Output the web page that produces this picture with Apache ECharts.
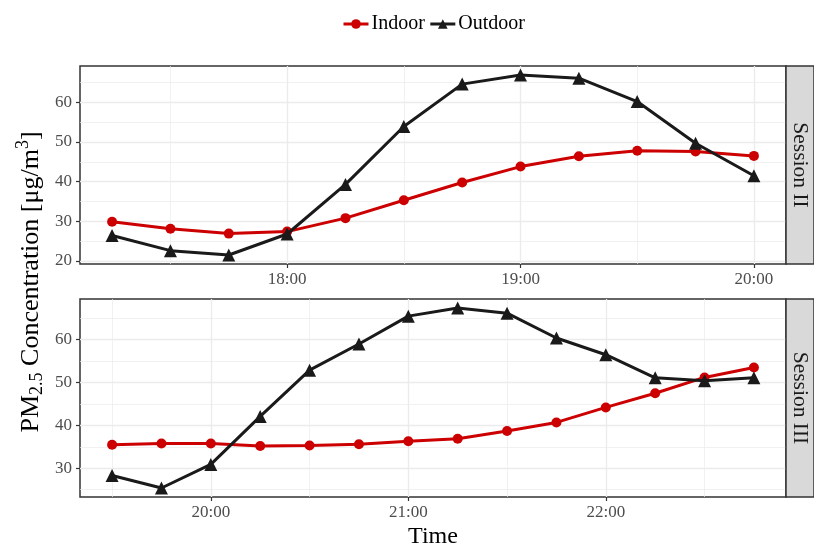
<!DOCTYPE html>
<html>
<head>
<meta charset="utf-8">
<script src="https://cdn.jsdelivr.net/npm/echarts@6/dist/echarts.min.js"></script>
<style>
html,body{margin:0;padding:0;background:#fff;}
#chart{width:814px;height:547px;}
</style>
</head>
<body>
<div id="chart"></div>
<script>
// ---- Data ----
const seriesNames = ['Indoor', 'Outdoor'];
const panelNames = ['Session II', 'Session III'];

const s2Times = ['17:15','17:30','17:45','18:00','18:15','18:30','18:45','19:00','19:15','19:30','19:45','20:00'];
const s2Indoor = [29.9, 28.1, 26.9, 27.4, 30.8, 35.3, 39.8, 43.8, 46.4, 47.8, 47.6, 46.5];
const s2Outdoor = [26.4, 22.6, 21.5, 26.8, 39.3, 53.9, 64.6, 66.9, 66.1, 60.2, 49.7, 41.5];

const s3Times = ['19:30','19:45','20:00','20:15','20:30','20:45','21:00','21:15','21:30','21:45','22:00','22:15','22:30','22:45'];
const s3Indoor = [35.5, 35.8, 35.8, 35.2, 35.3, 35.6, 36.3, 36.9, 38.7, 40.7, 44.2, 47.5, 51.2, 53.5];
const s3Outdoor = [28.3, 25.4, 30.9, 42.1, 52.9, 59.0, 65.5, 67.4, 66.2, 60.4, 56.5, 51.1, 50.4, 51.1];

const s2XTicks = ['18:00', '19:00', '20:00'];
const s2XMinor = ['17:30', '18:30', '19:30'];
const s3XTicks = ['20:00', '21:00', '22:00'];
const s3XMinor = ['19:30', '20:30', '21:30', '22:30'];
const s2YTicks = [20, 30, 40, 50, 60];
const s2YMinor = [25, 35, 45, 55, 65];
const s3YTicks = [30, 40, 50, 60];
const s3YMinor = [25, 35, 45, 55, 65];

// ---- helpers ----
function toH(s){ const p = s.split(':'); return +p[0] + (+p[1]) / 60; }
function fmt(v){ let h = Math.floor(v + 1e-6); let m = Math.round((v - h) * 60); if (m === 60){ h++; m = 0; } return h + ':' + (m < 10 ? '0' : '') + m; }
function expand(arr){ const mn = Math.min.apply(null, arr), mx = Math.max.apply(null, arr); const e = (mx - mn) * 0.05; return [mn - e, mx + e]; }

const FONT = '"Liberation Serif", "DejaVu Serif", serif';
const TICK_COLOR = '#4D4D4D';
const GRID_COLOR = '#EBEBEB';
const RED = '#CC0000';
const BLACK = '#1A1A1A';

const panels = [
  {times: s2Times, indoor: s2Indoor, outdoor: s2Outdoor, xt: s2XTicks, xm: s2XMinor, yt: s2YTicks, ym: s2YMinor, top: 66},
  {times: s3Times, indoor: s3Indoor, outdoor: s3Outdoor, xt: s3XTicks, xm: s3XMinor, yt: s3YTicks, ym: s3YMinor, top: 299}
];
const GRID_LEFT = 80, GRID_W = 706, GRID_H = 198;

const grids = [], xAxes = [], yAxes = [], series = [], graphics = [];
panels.forEach((p, i) => {
  const xs = p.times.map(toH);
  const xr = expand(xs);
  const yr = expand(p.indoor.concat(p.outdoor));
  grids.push({left: GRID_LEFT, top: p.top, width: GRID_W, height: GRID_H, show: true,
    borderColor: '#333333', borderWidth: 1.5, backgroundColor: 'transparent', containLabel: false});
  // major x
  xAxes.push({type: 'value', gridIndex: i, min: xr[0], max: xr[1], position: 'bottom',
    axisLine: {show: false},
    axisTick: {show: true, length: 4, lineStyle: {color: '#333333', width: 1.2}, customValues: p.xt.map(toH)},
    axisLabel: {show: true, customValues: p.xt.map(toH), formatter: fmt, color: TICK_COLOR, fontFamily: FONT, fontSize: 17, margin: 7},
    splitLine: {show: true, lineStyle: {color: GRID_COLOR, width: 1.3}}
  });
  // minor x
  xAxes.push({type: 'value', gridIndex: i, min: xr[0], max: xr[1], position: 'bottom',
    axisLine: {show: false},
    axisTick: {show: false, customValues: p.xm.map(toH)},
    axisLabel: {show: false},
    splitLine: {show: true, lineStyle: {color: GRID_COLOR, width: 0.7}}
  });
  // major y
  yAxes.push({type: 'value', gridIndex: i, min: yr[0], max: yr[1], position: 'left',
    axisLine: {show: false},
    axisTick: {show: true, length: 4, lineStyle: {color: '#333333', width: 1.2}, customValues: p.yt},
    axisLabel: {show: true, customValues: p.yt, color: TICK_COLOR, fontFamily: FONT, fontSize: 17, margin: 8},
    splitLine: {show: true, lineStyle: {color: GRID_COLOR, width: 1.3}}
  });
  // minor y
  yAxes.push({type: 'value', gridIndex: i, min: yr[0], max: yr[1], position: 'left',
    axisLine: {show: false},
    axisTick: {show: false, customValues: p.ym},
    axisLabel: {show: false},
    splitLine: {show: true, lineStyle: {color: GRID_COLOR, width: 0.7}}
  });
  series.push({name: 'Indoor', type: 'line', xAxisIndex: i * 2, yAxisIndex: i * 2,
    data: xs.map((x, k) => [x, p.indoor[k]]), symbol: 'circle', symbolSize: 10,
    lineStyle: {color: RED, width: 3}, itemStyle: {color: RED}, z: 3});
  series.push({name: 'Outdoor', type: 'line', xAxisIndex: i * 2, yAxisIndex: i * 2,
    data: xs.map((x, k) => [x, p.outdoor[k]]), symbol: 'triangle', symbolSize: 13,
    lineStyle: {color: BLACK, width: 3}, itemStyle: {color: BLACK}, z: 4});
  // strip
  graphics.push({type: 'rect', shape: {x: GRID_LEFT + GRID_W, y: p.top, width: 814 - GRID_LEFT - GRID_W, height: GRID_H},
    style: {fill: '#D9D9D9', stroke: '#333333', lineWidth: 1.5}, z: 1});
  graphics.push({type: 'text', x: GRID_LEFT + GRID_W + 14, y: p.top + GRID_H / 2, rotation: -Math.PI / 2,
    style: {text: panelNames[i], fontFamily: FONT, fontSize: 21.5, fill: '#1A1A1A', align: 'center', verticalAlign: 'middle'}, z: 2});
});

// axis titles
graphics.push({type: 'text', x: 433, y: 537,
  style: {text: 'Time', fontFamily: FONT, fontSize: 24, fill: '#000', align: 'center', verticalAlign: 'middle'}});
graphics.push({type: 'text', x: 31, y: 282, rotation: Math.PI / 2,
  style: {
    text: '{a|PM}{sub|2.5}{a| Concentration [μg/m}{sup|3}{a|]}',
    align: 'center', verticalAlign: 'middle',
    rich: {
      a: {fontFamily: FONT, fontSize: 26, fill: '#000', lineHeight: 32, verticalAlign: 'middle'},
      sub: {fontFamily: FONT, fontSize: 18, fill: '#000', lineHeight: 32, verticalAlign: 'middle', padding: [13, 0, 0, 0]},
      sup: {fontFamily: FONT, fontSize: 18, fill: '#000', lineHeight: 32, verticalAlign: 'middle', padding: [0, 0, 15, 0]}
    }
  }});

const option = {
  animation: false,
  backgroundColor: '#ffffff',
  legend: {
    data: seriesNames, left: 337, top: 9, itemWidth: 25, itemHeight: 12, itemGap: 4,
    lineStyle: {width: 3},
    textStyle: {fontFamily: FONT, fontSize: 20, color: '#000', padding: [0, 0, 0, -2]}
  },
  grid: grids,
  xAxis: xAxes,
  yAxis: yAxes,
  series: series,
  graphic: graphics
};

const chart = echarts.init(document.getElementById('chart'), null, {renderer: 'canvas'});
chart.setOption(option);
</script>
</body>
</html>
